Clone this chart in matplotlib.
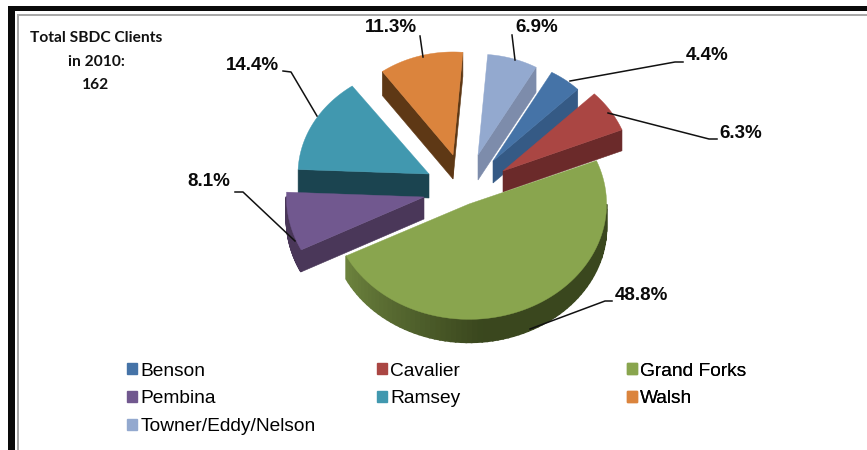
import numpy as np
import matplotlib
matplotlib.use('Agg')
import matplotlib.pyplot as plt
from matplotlib.colors import to_rgb
from matplotlib.patches import Patch, Rectangle

categories = ['Benson', 'Cavalier', 'Grand Forks', 'Pembina', 'Ramsey', 'Walsh', 'Towner/Eddy/Nelson']
shares = [4.4, 6.3, 48.8, 8.1, 14.4, 11.3, 6.9]
note_lines = ['Total SBDC Clients', 'in 2010:', '162']

top_colors = ['#4573A7', '#AA4643', '#89A54E', '#71588F', '#4198AF', '#DB843D', '#93A9CF']
side_colors = ['#355A85', '#6B2A2A', '#3A471E', '#4A3759', '#1B4450', '#5E3815', '#7D8CAB']

# pie layout in picture pixels
CX, CY = 458, 195
RX, RY = 131, 112
START = 29.5
shift = [(35, -34), (45, -24), (11, 9), (-34, 2), (-29, -21), (-5, -40), (20, -40)]
scale_x = [0.91, 0.98, 1.05, 1.05, 1.0, 0.92, 0.90]
scale_y = [0.91, 0.98, 1.03, 1.05, 0.97, 0.92, 0.90]
depth = [22, 21, 23, 22, 24, 24, 25]
rim_fade = [0, 0, 1, 0, 0, 0, 0]
draw_order = [5, 6, 0, 4, 1, 3, 2]

# label text position, then leader line points
label_pos = [(707, 56), (741, 133), (641, 295), (209, 182), (252, 65), (391, 27), (537, 27)]
leaders = [
    [(570, 81), (675, 62), (683, 62)],
    [(608, 113), (709, 139), (717, 139)],
    [(530, 329), (605, 301), (612, 301)],
    [(295, 241), (243, 192), (235, 192)],
    [(317, 116), (291, 72), (283, 71)],
    [(423, 57), (420, 36)],
    [(515, 60), (512, 35)],
]

legend_cols = [[0, 3, 6], [1, 4], [2, 5]]
legend_x = [121, 371, 621]


def draw_slice(ax, i, t0, t1):
    ax0, ay0 = CX + shift[i][0], CY + shift[i][1]
    d = depth[i]
    ts = np.linspace(t0, t1, 80)
    a = np.radians(ts)
    px = ax0 + np.sin(a) * RX * scale_x[i]
    py = ay0 - np.cos(a) * RY * scale_y[i]

    # radial faces facing the viewer
    if np.sin(a[0]) < 0:
        ax.fill([ax0, px[0], px[0], ax0], [ay0, py[0], py[0] + d, ay0 + d],
                color=side_colors[i], lw=0.4)
    if np.sin(a[-1]) > 0:
        ax.fill([ax0, px[-1], px[-1], ax0], [ay0, py[-1], py[-1] + d, ay0 + d],
                color=side_colors[i], lw=0.4)

    # outer rim, lighter towards the left end on the big slice
    base = np.array(to_rgb(side_colors[i]))
    light = np.array(to_rgb(top_colors[i])) * 0.8
    for k in range(len(ts) - 1):
        mid = (ts[k] + ts[k + 1]) / 2
        if 90 <= mid <= 270:
            mix = np.interp(mid, [90, 175, 245], [0, 0, 1]) * rim_fade[i]
            col = base * (1 - mix) + light * mix
            ax.fill([px[k], px[k + 1], px[k + 1], px[k]],
                    [py[k], py[k + 1], py[k + 1] + d, py[k] + d],
                    facecolor=col, edgecolor=col, lw=1.2)

    ax.fill(np.r_[ax0, px], np.r_[ay0, py], color=top_colors[i], lw=0.3)


def main():
    fig = plt.figure(figsize=(8.67, 4.5), dpi=100)
    ax = fig.add_axes([0, 0, 1, 1])
    ax.set_xlim(0, 867)
    ax.set_ylim(450, 0)
    ax.axis('off')

    # frame
    ax.add_patch(Rectangle((8, 6), 859, 5, color='#0A0A0A', lw=0))
    ax.add_patch(Rectangle((8, 6), 7, 444, color='#0A0A0A', lw=0))
    ax.add_patch(Rectangle((17, 14), 850, 2, color='#A8A8A8', lw=0))
    ax.add_patch(Rectangle((17, 14), 2, 436, color='#A8A8A8', lw=0))

    edges = START + np.cumsum([0] + shares) * 360 / sum(shares)
    for i in draw_order:
        draw_slice(ax, i, edges[i], edges[i + 1])

    for i, value in enumerate(shares):
        xs, ys = zip(*leaders[i])
        ax.plot(xs, ys, color='#111111', lw=1.1)
        ax.text(*label_pos[i], f'{value}%', family='Liberation Sans', weight='bold',
                fontsize=13.5, ha='center', va='center', color='#0A0A0A')

    for y, line in zip([38, 62, 85], note_lines):
        ax.text(96, y, line, family='Lato', weight='bold', fontsize=11.2,
                ha='center', va='center', color='#111111')

    for col, x in zip(legend_cols, legend_x):
        handles = [Patch(color=top_colors[i], label=categories[i]) for i in col]
        leg = ax.legend(handles=handles, loc='upper left', bbox_to_anchor=(x, 357),
                        bbox_transform=ax.transData, frameon=False, handlelength=0.51,
                        handleheight=0.51, handletextpad=0.2, labelspacing=0.56,
                        borderpad=0.3, borderaxespad=0,
                        prop={'family': 'Liberation Sans', 'size': 13.8})
        ax.add_artist(leg)

    fig.savefig('out.png', dpi=100)


if __name__ == '__main__':
    main()
